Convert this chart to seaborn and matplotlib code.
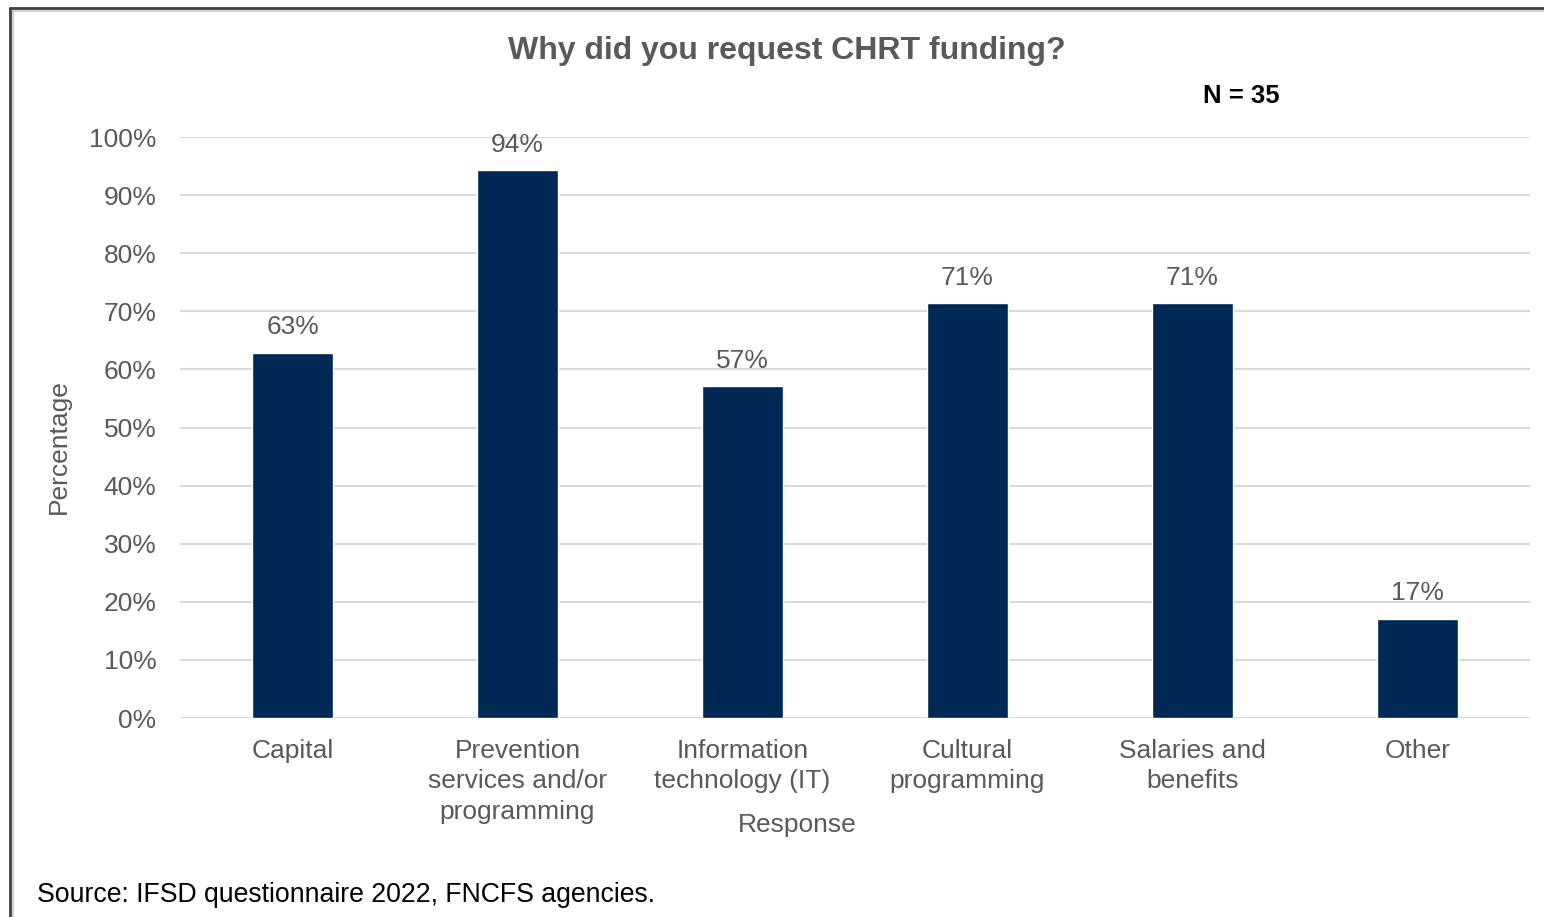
import matplotlib
matplotlib.use('Agg')
import matplotlib.pyplot as plt
import seaborn as sns
import pandas as pd
from matplotlib.lines import Line2D

# Data
responses = ['Capital', 'Prevention\nservices and/or\nprogramming', 'Information\ntechnology (IT)',
             'Cultural\nprogramming', 'Salaries and\nbenefits', 'Other']
percent = [62.9, 94.3, 57.1, 71.4, 71.4, 17.1]
yticks = list(range(0, 101, 10))

df = pd.DataFrame({'Response': responses, 'Percentage': percent})

sns.set_theme(style='white')
plt.rcParams['font.family'] = ['Liberation Sans', 'DejaVu Sans']

grey = '#595959'
navy = '#002855'

fig = plt.figure(figsize=(15.44, 9.17), dpi=100)
ax = fig.add_axes([180 / 1544, 1 - 718 / 917, 1350 / 1544, 581 / 917])

sns.barplot(data=df, x='Response', y='Percentage', color=navy, width=0.356, saturation=1, ax=ax, zorder=3)

ax.set_ylim(0, 100)
ax.set_xlim(-0.5, 5.5)
ax.set_yticks(yticks)
ax.set_yticklabels([f'{t}%' for t in yticks])
ax.yaxis.grid(True, color='#D9D9D9', linewidth=1.5, zorder=0)
ax.set_axisbelow(True)
for s in ax.spines.values():
    s.set_visible(False)
ax.axhline(0, color='#D9D9D9', linewidth=2, zorder=2)
ax.tick_params(axis='y', labelsize=19, labelcolor=grey, length=0, pad=17)
ax.tick_params(axis='x', labelsize=19, labelcolor=grey, length=0, pad=15)
for lbl in ax.get_xticklabels():
    lbl.set_linespacing(1.35)

for i, v in enumerate(percent):
    ax.annotate(f'{v:.0f}%', (i, v), xytext=(0, 9.5), textcoords='offset points',
                ha='center', va='bottom', fontsize=19, color=grey)

ax.set_ylabel('Percentage', fontsize=19, color=grey)
ax.yaxis.set_label_coords(-(180 - 59) / 1350, (718 - 447) / 581)
ax.yaxis.label.set_va('center')
ax.set_xlabel('Response', fontsize=19, color=grey)
ax.xaxis.set_label_coords((797 - 180) / 1350, -(825 - 718) / 581)
ax.xaxis.label.set_va('center')

fig.text(787 / 1544, 1 - 51 / 917, 'Why did you request CHRT funding?', ha='center', va='center',
         fontsize=23, fontweight='bold', color=grey)
fig.text(1241 / 1544, 1 - 96 / 917, 'N = 35', ha='center', va='center',
         fontsize=18.5, fontweight='bold', color='black')
fig.text(37 / 1544, 1 - 895 / 917, 'Source: IFSD questionnaire 2022, FNCFS agencies.', ha='left', va='center',
         fontsize=19.2, color='black')

# chart frame (left and top edges)
fig.add_artist(Line2D([10 / 1544, 10 / 1544], [0, 1 - 8 / 917], color='#404040', linewidth=2))
fig.add_artist(Line2D([10 / 1544, 1], [1 - 8 / 917, 1 - 8 / 917], color='#404040', linewidth=2))
fig.add_artist(Line2D([13 / 1544, 13 / 1544], [0, 1 - 11 / 917], color='#D0D0D0', linewidth=1.5))
fig.add_artist(Line2D([13 / 1544, 1], [1 - 11 / 917, 1 - 11 / 917], color='#D0D0D0', linewidth=1.5))

fig.savefig('out.png', dpi=100)
